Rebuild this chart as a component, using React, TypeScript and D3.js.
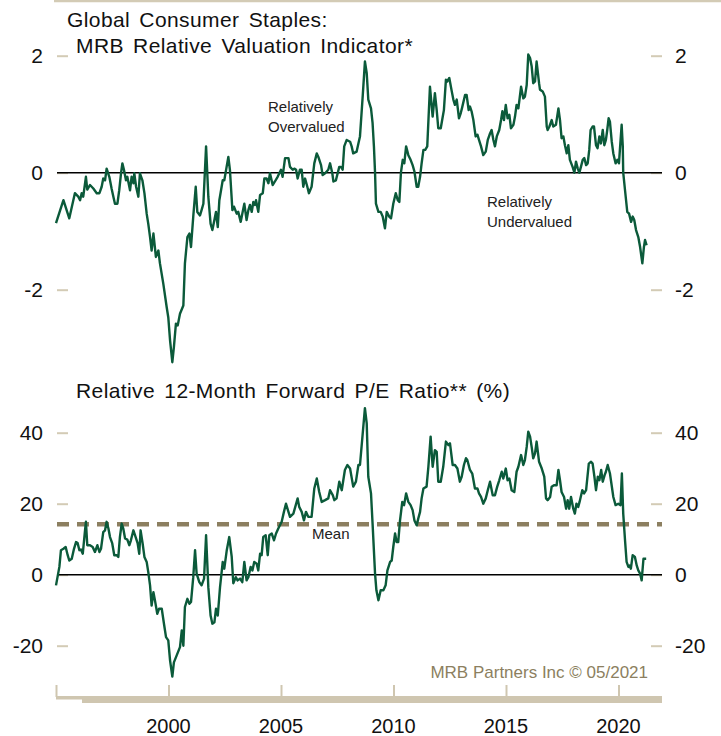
import React from 'react';
import * as d3 from 'd3';

// MRB relative valuation indicator, [year, value]
const mrbSeries: [number, number][] = [
  [1995.00, -0.86], [1995.33, -0.47], [1995.59, -0.78], [1995.84, -0.35], [1995.99, -0.41], [1996.07, -0.47],
  [1996.14, -0.35], [1996.21, -0.41], [1996.33, -0.07], [1996.39, -0.29], [1996.51, -0.21], [1996.66, -0.27],
  [1996.81, -0.35], [1996.93, -0.35], [1997.03, -0.24], [1997.10, -0.10], [1997.18, -0.13], [1997.25, 0.07],
  [1997.37, -0.07], [1997.47, -0.27], [1997.55, -0.41], [1997.62, -0.53], [1997.73, -0.53], [1997.81, -0.30],
  [1997.89, -0.01], [1997.95, 0.16], [1998.02, 0.05], [1998.11, -0.13], [1998.17, -0.07], [1998.29, -0.30],
  [1998.36, -0.07], [1998.44, -0.18], [1998.48, -0.01], [1998.56, -0.24], [1998.66, -0.41], [1998.73, -0.01],
  [1998.84, -0.13], [1998.93, -0.35], [1999.03, -0.70], [1999.10, -0.87], [1999.18, -1.10], [1999.25, -1.33],
  [1999.33, -1.04], [1999.44, -1.44], [1999.55, -1.33], [1999.62, -1.55], [1999.77, -1.90], [1999.92, -2.30],
  [1999.99, -2.47], [2000.07, -2.87], [2000.17, -3.24], [2000.24, -2.98], [2000.33, -2.58], [2000.41, -2.61],
  [2000.51, -2.41], [2000.66, -2.27], [2000.73, -1.55], [2000.84, -1.10], [2000.93, -1.04], [2001.00, -1.27],
  [2001.10, -0.75], [2001.21, -0.24], [2001.28, -0.67], [2001.40, -0.73], [2001.47, -0.64], [2001.55, -0.53],
  [2001.67, 0.45], [2001.77, -0.41], [2001.87, -0.87], [2001.95, -0.98], [2002.04, -0.81], [2002.11, -0.67],
  [2002.19, -0.93], [2002.26, -0.47], [2002.41, -0.13], [2002.48, -0.13], [2002.66, 0.27], [2002.73, 0.05],
  [2002.84, -0.64], [2002.91, -0.58], [2003.03, -0.70], [2003.10, -0.67], [2003.21, -0.84], [2003.28, -0.70],
  [2003.37, -0.53], [2003.47, -0.81], [2003.55, -0.64], [2003.62, -0.55], [2003.70, -0.67], [2003.77, -0.50],
  [2003.84, -0.55], [2003.89, -0.47], [2003.99, -0.67], [2004.07, -0.38], [2004.19, -0.35], [2004.26, -0.10],
  [2004.36, -0.10], [2004.44, -0.18], [2004.51, -0.01], [2004.63, -0.21], [2004.73, -0.15], [2004.85, -0.07],
  [2005.00, 0.05], [2005.07, -0.07], [2005.18, 0.25], [2005.33, 0.25], [2005.40, 0.10], [2005.52, 0.05],
  [2005.59, 0.07], [2005.67, 0.05], [2005.74, -0.10], [2005.84, 0.05], [2005.92, 0.05], [2005.99, -0.24],
  [2006.07, -0.10], [2006.17, -0.24], [2006.24, -0.35], [2006.36, -0.24], [2006.48, 0.16], [2006.59, 0.33],
  [2006.66, 0.27], [2006.78, 0.13], [2006.85, -0.04], [2006.96, -0.01], [2007.10, 0.05], [2007.18, 0.16],
  [2007.28, -0.01], [2007.33, -0.15], [2007.44, -0.13], [2007.59, 0.10], [2007.67, 0.10], [2007.74, 0.05],
  [2007.81, 0.45], [2007.92, 0.56], [2008.07, 0.53], [2008.14, 0.45], [2008.21, 0.33], [2008.36, 0.36],
  [2008.44, 0.50], [2008.51, 0.62], [2008.63, 1.30], [2008.73, 1.90], [2008.81, 1.70], [2008.88, 1.25],
  [2009.00, 1.10], [2009.07, 0.85], [2009.13, 0.45], [2009.18, 0.00], [2009.22, -0.53], [2009.33, -0.67],
  [2009.43, -0.67], [2009.52, -0.75], [2009.62, -0.95], [2009.70, -0.67], [2009.81, -0.75], [2009.89, -0.78],
  [2009.99, -0.53], [2010.10, -0.35], [2010.19, -0.47], [2010.26, -0.50], [2010.33, 0.00], [2010.41, 0.22],
  [2010.48, 0.16], [2010.56, 0.45], [2010.66, 0.30], [2010.76, 0.22], [2010.85, 0.13], [2010.93, 0.02],
  [2011.03, -0.24], [2011.10, -0.24], [2011.18, -0.07], [2011.25, 0.16], [2011.33, 0.39], [2011.41, 0.39],
  [2011.50, 0.45], [2011.62, 1.47], [2011.74, 0.96], [2011.84, 1.36], [2011.92, 1.07], [2011.99, 0.76],
  [2012.10, 0.76], [2012.19, 0.96], [2012.24, 1.07], [2012.33, 1.59], [2012.39, 1.56], [2012.48, 1.62],
  [2012.59, 1.39], [2012.66, 1.25], [2012.73, 1.16], [2012.81, 1.25], [2012.91, 0.93], [2012.99, 1.02],
  [2013.06, 1.13], [2013.18, 1.33], [2013.25, 1.33], [2013.34, 1.07], [2013.40, 1.13], [2013.47, 1.05],
  [2013.55, 0.90], [2013.65, 0.62], [2013.73, 0.65], [2013.80, 0.56], [2013.89, 0.45], [2013.99, 0.30],
  [2014.10, 0.36], [2014.19, 0.56], [2014.29, 0.67], [2014.36, 0.73], [2014.44, 0.56], [2014.51, 0.45],
  [2014.59, 0.62], [2014.70, 0.73], [2014.78, 0.90], [2014.84, 1.05], [2014.91, 0.90], [2014.99, 1.16],
  [2015.07, 0.93], [2015.15, 0.99], [2015.22, 0.76], [2015.33, 0.82], [2015.40, 0.96], [2015.47, 1.16],
  [2015.55, 1.10], [2015.67, 1.47], [2015.77, 1.27], [2015.84, 1.30], [2015.92, 1.50], [2015.99, 2.02],
  [2016.07, 1.96], [2016.14, 1.82], [2016.21, 1.53], [2016.29, 1.56], [2016.36, 1.90], [2016.47, 1.53],
  [2016.51, 1.42], [2016.63, 1.39], [2016.73, 1.30], [2016.81, 0.79], [2016.85, 0.73], [2016.93, 0.79],
  [2017.03, 0.90], [2017.10, 0.79], [2017.22, 0.82], [2017.33, 1.10], [2017.40, 0.90], [2017.47, 0.59],
  [2017.55, 0.62], [2017.62, 0.47], [2017.70, 0.33], [2017.77, 0.47], [2017.84, 0.22], [2017.96, 0.10],
  [2018.04, 0.00], [2018.11, 0.19], [2018.19, 0.07], [2018.26, 0.00], [2018.33, 0.10], [2018.41, 0.22],
  [2018.48, 0.25], [2018.56, 0.13], [2018.63, 0.16], [2018.70, 0.39], [2018.76, 0.73], [2018.85, 0.79],
  [2018.91, 0.79], [2019.00, 0.47], [2019.07, 0.42], [2019.15, 0.62], [2019.22, 0.50], [2019.30, 0.73],
  [2019.37, 0.47], [2019.44, 0.56], [2019.50, 0.73], [2019.56, 0.93], [2019.62, 0.87], [2019.70, 0.53],
  [2019.77, 0.33], [2019.87, 0.16], [2019.95, 0.22], [2020.02, 0.16], [2020.14, 0.82], [2020.19, 0.45],
  [2020.21, 0.00], [2020.29, -0.30], [2020.39, -0.67], [2020.47, -0.70], [2020.56, -0.84], [2020.63, -0.75],
  [2020.70, -0.81], [2020.78, -0.98], [2020.88, -1.10], [2020.96, -1.27], [2021.06, -1.55], [2021.13, -1.27],
  [2021.18, -1.15], [2021.25, -1.24],
];

// relative 12-month forward P/E (%), [year, value]
const peSeries: [number, number][] = [
  [1995.00, -3.0], [1995.15, 2.2], [1995.22, 6.9], [1995.33, 7.3], [1995.43, 7.8], [1995.52, 5.5],
  [1995.59, 4.0], [1995.70, 4.5], [1995.80, 7.3], [1995.89, 9.2], [1995.96, 8.9], [1996.04, 6.9],
  [1996.11, 7.1], [1996.19, 5.9], [1996.29, 12.5], [1996.33, 14.9], [1996.39, 8.3], [1996.51, 8.3],
  [1996.63, 7.8], [1996.73, 6.4], [1996.84, 8.3], [1996.93, 6.4], [1997.00, 7.3], [1997.10, 12.0],
  [1997.18, 12.5], [1997.25, 14.9], [1997.33, 13.0], [1997.40, 10.6], [1997.50, 8.8], [1997.59, 5.5],
  [1997.70, 5.5], [1997.77, 5.0], [1997.84, 10.6], [1997.92, 14.4], [1997.99, 13.0], [1998.07, 10.2],
  [1998.17, 9.9], [1998.26, 8.3], [1998.33, 9.7], [1998.44, 12.5], [1998.54, 10.6], [1998.63, 8.8],
  [1998.70, 5.9], [1998.76, 12.5], [1998.85, 8.8], [1998.93, 5.0], [1999.03, 3.6], [1999.10, 0.8],
  [1999.18, -3.0], [1999.25, -8.7], [1999.33, -4.9], [1999.40, -7.3], [1999.50, -11.0], [1999.58, -9.6],
  [1999.70, -9.6], [1999.80, -13.9], [1999.89, -17.6], [1999.99, -18.5], [2000.07, -24.2], [2000.17, -28.7],
  [2000.24, -24.7], [2000.36, -22.8], [2000.51, -20.4], [2000.59, -15.7], [2000.66, -20.0], [2000.73, -9.1],
  [2000.84, -6.8], [2000.93, -8.2], [2001.00, -7.7], [2001.10, -0.7], [2001.18, 6.9], [2001.25, 0.3],
  [2001.37, -2.1], [2001.47, -3.0], [2001.58, -1.1], [2001.67, 11.1], [2001.77, -3.5], [2001.87, -11.5],
  [2001.95, -13.8], [2002.04, -13.4], [2002.11, -9.6], [2002.19, -11.5], [2002.29, -3.5], [2002.41, 3.6],
  [2002.48, 1.7], [2002.59, 6.9], [2002.70, 10.6], [2002.81, 5.0], [2002.88, -2.4], [2002.99, -0.7],
  [2003.07, -1.6], [2003.18, -1.1], [2003.28, -2.1], [2003.37, 3.6], [2003.47, -1.6], [2003.55, -0.7],
  [2003.65, 2.2], [2003.73, 1.2], [2003.81, 3.6], [2003.92, 3.1], [2003.99, 1.2], [2004.07, 5.9],
  [2004.14, 5.5], [2004.21, 10.6], [2004.32, 11.1], [2004.41, 5.5], [2004.48, 11.1], [2004.59, 11.6],
  [2004.69, 9.7], [2004.78, 11.6], [2004.88, 13.0], [2005.03, 14.9], [2005.13, 17.7], [2005.22, 20.0],
  [2005.40, 16.3], [2005.55, 17.2], [2005.74, 21.5], [2005.81, 19.1], [2005.92, 17.7], [2006.02, 15.3],
  [2006.11, 17.7], [2006.21, 16.3], [2006.36, 16.3], [2006.48, 24.3], [2006.59, 27.1], [2006.70, 23.3],
  [2006.81, 20.5], [2006.96, 21.0], [2007.10, 21.5], [2007.18, 23.8], [2007.30, 22.4], [2007.37, 21.0],
  [2007.47, 21.5], [2007.59, 26.2], [2007.70, 23.8], [2007.84, 29.5], [2007.95, 30.9], [2008.07, 29.9],
  [2008.21, 24.8], [2008.33, 26.2], [2008.44, 30.9], [2008.51, 30.9], [2008.73, 46.9], [2008.81, 42.6],
  [2008.88, 27.6], [2009.00, 22.9], [2009.07, 14.4], [2009.18, 0.3], [2009.24, -4.4], [2009.33, -7.2],
  [2009.43, -4.4], [2009.55, -4.4], [2009.65, -3.0], [2009.73, 1.2], [2009.85, 3.6], [2009.92, 4.0],
  [2009.99, 7.8], [2010.07, 11.6], [2010.14, 9.2], [2010.21, 9.2], [2010.29, 15.3], [2010.39, 20.5],
  [2010.47, 19.6], [2010.56, 22.9], [2010.66, 20.5], [2010.76, 19.6], [2010.85, 18.2], [2010.93, 15.3],
  [2011.03, 13.9], [2011.10, 15.8], [2011.18, 17.7], [2011.25, 21.5], [2011.33, 24.3], [2011.47, 24.8],
  [2011.55, 30.4], [2011.65, 38.9], [2011.74, 30.4], [2011.84, 35.1], [2011.92, 34.6], [2011.99, 26.2],
  [2012.10, 26.2], [2012.21, 30.4], [2012.33, 37.5], [2012.44, 36.5], [2012.51, 37.0], [2012.63, 30.9],
  [2012.73, 30.9], [2012.84, 29.9], [2012.95, 26.2], [2013.03, 27.6], [2013.13, 30.9], [2013.22, 32.8],
  [2013.28, 32.3], [2013.40, 29.5], [2013.50, 28.5], [2013.62, 24.3], [2013.73, 24.3], [2013.80, 22.9],
  [2013.89, 21.9], [2013.99, 20.0], [2014.10, 21.5], [2014.19, 23.8], [2014.29, 26.2], [2014.41, 22.4],
  [2014.51, 22.4], [2014.61, 24.8], [2014.70, 26.6], [2014.81, 29.0], [2014.88, 27.1], [2014.99, 29.9],
  [2015.07, 26.6], [2015.15, 27.1], [2015.25, 23.8], [2015.37, 23.3], [2015.47, 29.0], [2015.55, 30.4],
  [2015.67, 33.7], [2015.77, 30.9], [2015.84, 32.3], [2015.92, 36.0], [2015.99, 40.3], [2016.07, 38.9],
  [2016.14, 36.0], [2016.21, 32.8], [2016.29, 34.2], [2016.36, 37.5], [2016.47, 31.8], [2016.59, 29.9],
  [2016.70, 27.6], [2016.78, 21.5], [2016.85, 21.0], [2016.96, 21.9], [2017.03, 24.8], [2017.13, 25.2],
  [2017.25, 25.2], [2017.33, 29.5], [2017.40, 26.6], [2017.47, 23.3], [2017.58, 21.9], [2017.67, 18.6],
  [2017.74, 21.0], [2017.81, 18.6], [2017.89, 21.9], [2017.99, 18.6], [2018.06, 17.2], [2018.13, 20.0],
  [2018.21, 19.1], [2018.27, 20.5], [2018.39, 23.8], [2018.47, 22.9], [2018.56, 23.8], [2018.68, 31.3],
  [2018.78, 31.8], [2018.85, 31.3], [2018.93, 27.6], [2019.00, 23.8], [2019.08, 27.6], [2019.15, 26.6],
  [2019.23, 29.5], [2019.30, 26.2], [2019.38, 28.0], [2019.44, 29.0], [2019.52, 30.9], [2019.62, 28.5],
  [2019.77, 21.9], [2019.87, 19.6], [2019.99, 20.0], [2020.09, 19.6], [2020.15, 28.5], [2020.21, 17.2],
  [2020.29, 9.7], [2020.36, 3.6], [2020.44, 2.2], [2020.49, 2.6], [2020.55, 1.7], [2020.63, 5.5],
  [2020.73, 5.0], [2020.81, 2.6], [2020.88, 1.2], [2020.96, 0.3], [2021.03, -1.6], [2021.11, 4.5],
  [2021.23, 4.5],
];

const peMean = 14.2;
const topTicks = [-2, 0, 2];
const bottomTicks = [-20, 0, 20, 40];
const yearTicks = [1995, 2000, 2005, 2010, 2015, 2020];
const yearLabels = [2000, 2005, 2010, 2015, 2020];

const W = 721;
const H = 736;
const FONT = '"Liberation Sans", Arial, sans-serif';
const GREEN = '#0b5a3a';
const BEIGE = '#d3cbb5';
const KHAKI = '#8c7f60';

const App = () => {
  const x = d3.scaleLinear().domain([1995, 2022]).range([56, 663.5]);
  const yTop = d3.scaleLinear().domain([-2, 2]).range([289.7, 55.7]);
  const yBot = d3.scaleLinear().domain([-20, 40]).range([645.7, 432.7]);

  const lineTop = d3.line<[number, number]>().x(d => x(d[0])).y(d => yTop(d[1]));
  const lineBot = d3.line<[number, number]>().x(d => x(d[0])).y(d => yBot(d[1]));

  const plotL = 57;
  const plotR = 662;

  const yAxis = (scale: d3.ScaleLinear<number, number>, ticks: number[]) =>
    ticks.map(t => (
      <g key={t}>
        <line x1={plotL} x2={68} y1={scale(t) + 0.5} y2={scale(t) + 0.5} stroke={BEIGE} strokeWidth={2} />
        <line x1={651} x2={plotR} y1={scale(t) + 0.5} y2={scale(t) + 0.5} stroke={BEIGE} strokeWidth={2} />
        <text x={43} y={scale(t)} dy="0.36em" textAnchor="end" fontSize={21}>{t}</text>
        <text x={675} y={scale(t)} dy="0.36em" fontSize={21}>{t}</text>
      </g>
    ));

  return (
    <svg width={W} height={H} style={{ position: 'absolute', left: 0, top: 0, background: '#fff' }}
      fontFamily={FONT} fill="#111">
      <line x1={54} x2={W} y1={1} y2={1} stroke={BEIGE} strokeWidth={2.5} />

      {/* titles */}
      <text x={67} y={26.5} fontSize={21} letterSpacing={0.4} wordSpacing={3}>Global Consumer Staples:</text>
      <text x={76} y={53} fontSize={21} letterSpacing={0.4} wordSpacing={3}>MRB Relative Valuation Indicator*</text>
      <text x={76} y={397.5} fontSize={21} letterSpacing={0.4} wordSpacing={3}>Relative 12-Month Forward P/E Ratio** (%)</text>

      {/* top panel */}
      {yAxis(yTop, topTicks)}
      <line x1={plotL} x2={plotR} y1={yTop(0)} y2={yTop(0)} stroke="#000" strokeWidth={1.6} />
      <text fontSize={15} fill="#222">
        <tspan x={268} y={111.5}>Relatively</tspan>
        <tspan x={268} y={131.5}>Overvalued</tspan>
      </text>
      <text fontSize={15} fill="#222">
        <tspan x={487} y={206.5}>Relatively</tspan>
        <tspan x={487} y={226.5}>Undervalued</tspan>
      </text>
      <path d={lineTop(mrbSeries) || ''} fill="none" stroke={GREEN} strokeWidth={2.4} strokeLinejoin="round" />

      {/* bottom panel */}
      {yAxis(yBot, bottomTicks)}
      <line x1={plotL} x2={plotR} y1={yBot(0)} y2={yBot(0)} stroke="#000" strokeWidth={1.6} />
      <line x1={plotL} x2={plotR} y1={yBot(peMean)} y2={yBot(peMean)} stroke={KHAKI} strokeWidth={4.5}
        strokeDasharray="12,8" />
      <text x={312} y={539} fontSize={15} fill="#222">Mean</text>
      <path d={lineBot(peSeries) || ''} fill="none" stroke={GREEN} strokeWidth={2.4} strokeLinejoin="round" />

      <text x={648} y={678} fontSize={17} fill={KHAKI} textAnchor="end">MRB Partners Inc © 05/2021</text>

      {/* x axis */}
      <rect x={x(1995)} y={696} width={x(2022) - x(1995) - 1.5} height={3.5} fill="#cfc6b0" />
      <rect x={82} y={698.5} width={x(2022) - 82 - 1.5} height={4.5} fill="#cfc6b0" />
      {yearTicks.map(t => (
        <line key={t} x1={x(t) + 0.5} x2={x(t) + 0.5} y1={685} y2={697} stroke="#cfc6b0" strokeWidth={2} />
      ))}
      {yearLabels.map(t => (
        <text key={t} x={x(t)} y={732.5} fontSize={20} textAnchor="middle">{t}</text>
      ))}
    </svg>
  );
};

export default App;
